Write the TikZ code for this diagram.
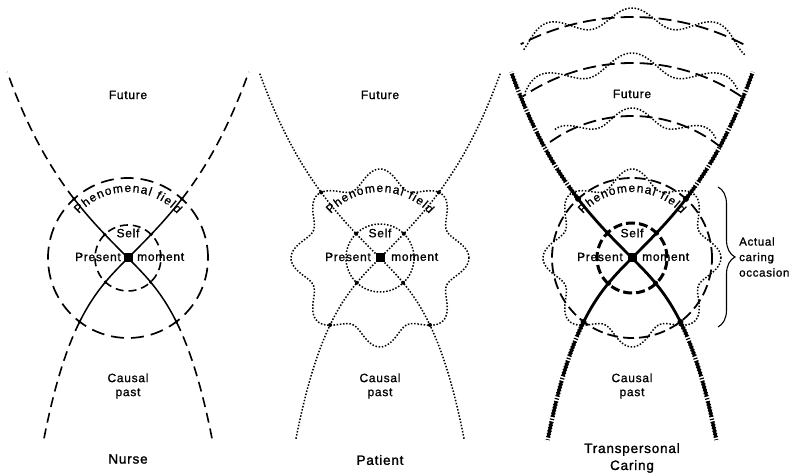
\documentclass[tikz,border=0pt]{standalone}
\usepackage{fontspec}
\setmainfont{Liberation Sans}
\newfontfamily\lblfont{Liberation Sans}[LetterSpace=6, FakeBold=1.1]
\newfontfamily\bigfont{Liberation Sans}[LetterSpace=6, FakeBold=1.5]
\newfontfamily\pffont{Liberation Sans}[FakeBold=1.0]
\usetikzlibrary{decorations.pathreplacing}
\tikzset{
  lab/.style={font=\lblfont\fontsize{12}{14}\selectfont, inner sep=0pt, align=center},
  biglab/.style={font=\bigfont\fontsize{13.5}{17}\selectfont, inner sep=0pt, align=center},
  pfc/.style={font=\pffont\fontsize{12}{12}\selectfont, inner sep=0pt, anchor=base},
  ndash/.style={line width=1.6pt, dash pattern=on 10pt off 6pt},
  nsolid/.style={line width=1.5pt},
  ncirc/.style={line width=1.7pt, dash pattern=on 13pt off 7pt},
  ninner/.style={line width=1.6pt, dash pattern=on 8pt off 5pt},
  pdot/.style={line width=1.5pt, dash pattern=on 1.5pt off 1.7pt},
  tsolid/.style={line width=2.8pt},
  tdash/.style={line width=3.2pt, dash pattern=on 16pt off 5pt},
  tdotw/.style={line width=4.4pt, dash pattern=on 1.2pt off 1.8pt},
  tinner/.style={line width=3pt, dash pattern=on 9pt off 4pt},
  tcirc/.style={line width=1.8pt, dash pattern=on 11pt off 5pt},
  tarc/.style={line width=1.8pt, dash pattern=on 13pt off 6pt},
  ctr/.style={fill=black, inner sep=0pt, minimum size=9pt},
}
% letters of "Phenomenal field" placed along an arc of radius 66
\newcommand{\phenfield}[1]{%
  \foreach \c/\a [count=\i] in {P/134.58,h/127.17,e/120.34,n/113.50,o/106.67,m/98.39,e/90.11,n/83.28,a/76.45,l/71.35,f/63.77,i/60.12,e/55.03,l/49.93,d/44.84}{
    \node[pfc, rotate=\a-90] (#1\i) at (\a:66) {\c};
  }%
}
\begin{document}
\begin{tikzpicture}[x=1pt,y=1pt]
\useasboundingbox (0,0) rectangle (795,476);

% ---------------- Nurse ----------------
\begin{scope}[shift={(128,218)}]
  \foreach \s in {-1,1}{
    \draw[ndash] plot[domain=0.749:1.678,samples=40] ({\s*72*\x},{72*sinh(\x)});
    \draw[nsolid] plot[domain=0:0.749,samples=15] ({\s*72*\x},{72*sinh(\x)});
    \draw[ndash] plot[domain=1.327:2.31,samples=40] ({\s*36.5*\x},{-36.5*sinh(\x)});
    \draw[nsolid] plot[domain=0:1.327,samples=25] ({\s*36.5*\x},{-36.5*sinh(\x)});
    \fill ({\s*72*0.749},{72*sinh(0.749)}) circle[radius=1.8];
    \fill ({\s*36.5*1.327},{-36.5*sinh(1.327)}) circle[radius=1.8];
    \fill ({\s*72*0.3215},{72*sinh(0.3215)}) circle[radius=1.8];
    \fill ({\s*36.5*0.619},{-36.5*sinh(0.619)}) circle[radius=1.8];
  }
  \draw[ncirc] (0,0) circle[radius=80];
  \draw[ninner] (0,0) circle[radius=33];
  \node[ctr] (c1) at (0,0) {};
  \phenfield{pfa}
\end{scope}
\node[lab] (fut1) at (128,381) {Future};
\node[lab] (self1) at (128,243) {Self};
\node[lab,anchor=east] (pres1) at (121,219) {Present};
\node[lab,anchor=west] (mom1) at (137,219) {moment};
\node[lab] (cp1) at (128,90) {Causal\\past};
\node[biglab] (nurse) at (128,17) {Nurse};

% ---------------- Patient ----------------
\begin{scope}[shift={(380,218)}]
  \foreach \s in {-1,1}{
    \draw[pdot] plot[domain=0:1.678,samples=60] ({\s*72*\x},{72*sinh(\x)});
    \draw[pdot] plot[domain=0:2.31,samples=70] ({\s*36.5*\x},{-36.5*sinh(\x)});
    \fill ({\s*72*0.817},{72*sinh(0.817)}) circle[radius=2];
    \fill ({\s*36.5*1.3677},{-36.5*sinh(1.3677)}) circle[radius=2];
    \fill ({\s*72*0.331},{72*sinh(0.331)}) circle[radius=2];
    \fill ({\s*36.5*0.635},{-36.5*sinh(0.635)}) circle[radius=2];
  }
  \draw[pdot] plot[domain=0:360,samples=241,variable=\t] (\t:{80.5+8.5*cos(8*\t)}) -- cycle;
  \draw[pdot] (0,0) circle[radius=34];
  \node[ctr] (c2) at (0,0) {};
  \phenfield{pfb}
\end{scope}
\node[lab] (fut2) at (380,381) {Future};
\node[lab] (self2) at (380,243) {Self};
\node[lab,anchor=east] (pres2) at (371,219) {Present};
\node[lab,anchor=west] (mom2) at (391,219) {moment};
\node[lab] (cp2) at (380,90) {Causal\\past};
\node[biglab] (patient) at (380,16) {Patient};

% ---------------- Transpersonal ----------------
\begin{scope}[shift={(632,218)}]
  % future arcs
  \draw[tarc] (62.5:241) arc[start angle=62.5,end angle=117.5,radius=241];
  \draw[pdot] plot[domain=61:117.5,samples=90,variable=\t] (\t:{241+9*cos(18*(\t-90))});
  \draw[tarc] (56:195) arc[start angle=56,end angle=124,radius=195];
  \draw[pdot] plot[domain=58:123,samples=90,variable=\t] (\t:{195+10*cos(13.33*(\t-90))});
  \draw[tarc] (51:142) arc[start angle=51,end angle=128,radius=142];
  \draw[pdot] plot[domain=55:121,samples=90,variable=\t] (\t:{142+8*cos(12*(\t-90))});
  \foreach \s in {-1,1}{
    \draw[tdotw] plot[domain=0.749:1.678,samples=40] ({\s*72*\x},{72*sinh(\x)});
    \draw[tdash] plot[domain=0.749:1.678,samples=40] ({\s*72*\x},{72*sinh(\x)});
    \draw[tsolid] plot[domain=0:0.749,samples=15] ({\s*72*\x},{72*sinh(\x)});
    \draw[tdotw] plot[domain=1.327:2.31,samples=40] ({\s*36.5*\x},{-36.5*sinh(\x)});
    \draw[tdash] plot[domain=1.327:2.31,samples=40] ({\s*36.5*\x},{-36.5*sinh(\x)});
    \draw[tsolid] plot[domain=0:1.327,samples=25] ({\s*36.5*\x},{-36.5*sinh(\x)});
    \fill ({\s*72*0.749},{72*sinh(0.749)}) circle[radius=3];
    \fill ({\s*36.5*1.327},{-36.5*sinh(1.327)}) circle[radius=3];
    \fill ({\s*72*0.3405},{72*sinh(0.3405)}) circle[radius=2.6];
    \fill ({\s*36.5*0.645},{-36.5*sinh(0.645)}) circle[radius=2.6];
  }
  \draw[tcirc] (0,0) circle[radius=80];
  \draw[pdot] plot[domain=0:360,samples=241,variable=\t] (\t:{80.5+8.5*cos(8*\t)}) -- cycle;
  \draw[tinner] (0,0) circle[radius=35];
  \node[ctr] (c3) at (0,0) {};
  \phenfield{pfc}
\end{scope}
\node[lab] (fut3) at (632,382) {Future};
\node[lab] (self3) at (632,243) {Self};
\node[lab,anchor=east] (pres3) at (623,219) {Present};
\node[lab,anchor=west] (mom3) at (642,219) {moment};
\node[lab] (cp3) at (632,90) {Causal\\past};
\node[biglab] (tc) at (632,18) {Transpersonal\\Caring};

% brace
\coordinate (bt) at (718,289);
\coordinate (bb) at (718,149);
\draw[line width=1.1pt, decorate, decoration={brace, amplitude=17pt}] (bt) -- (bb);
\node[font=\lblfont\fontsize{11.5}{15.5}\selectfont, inner sep=0pt, anchor=west, align=left] (aco) at (739,219) {Actual\\caring\\occasion};
\end{tikzpicture}
\end{document}
